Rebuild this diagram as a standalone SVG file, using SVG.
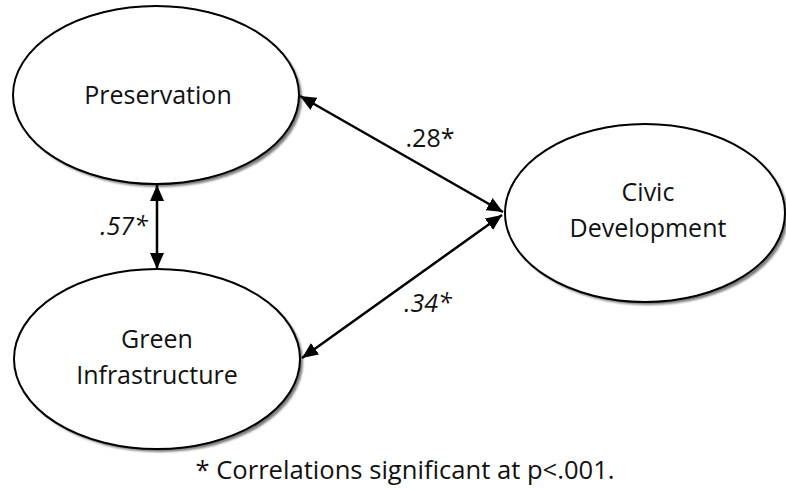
<svg xmlns="http://www.w3.org/2000/svg" width="786" height="490" viewBox="0 0 786 490">
  <style>
    .node-shape { fill: #ffffff; stroke: #000000; stroke-width: 2; }
    .node-shadow { fill: #7a7a7a; filter: url(#soft); }
    .label { font-family: "Open Sans", "Noto Sans", "Liberation Sans", sans-serif; font-size: 25px; fill: #111111; text-anchor: middle; }
    .note { font-size: 25.6px; }
    .coef { font-family: "Open Sans", "Noto Sans", "Liberation Sans", sans-serif; font-size: 25px; fill: #111111; text-anchor: middle; }
    .italic { font-style: italic; }
    .link { stroke: #000000; stroke-width: 2.5; fill: none; marker-start: url(#head); marker-end: url(#head); }
  </style>
  <defs>
    <filter id="soft" x="-10%" y="-10%" width="120%" height="120%">
      <feGaussianBlur stdDeviation="0.8"/>
    </filter>
    <marker id="head" viewBox="0 0 16 14" refX="16" refY="7" markerWidth="16" markerHeight="14" markerUnits="userSpaceOnUse" orient="auto-start-reverse">
      <path d="M0,0 L16,7 L0,14 Z" fill="#000000"/>
    </marker>
  </defs>
  <rect width="786" height="490" fill="#ffffff"/>

  <!-- Preservation -->
  <g id="preservation">
    <ellipse class="node-shadow" cx="159" cy="98" rx="143" ry="89"/>
    <ellipse class="node-shape" cx="156" cy="95" rx="143" ry="89"/>
    <text class="label" x="158" y="104">Preservation</text>
  </g>

  <!-- Green Infrastructure -->
  <g id="green-infrastructure">
    <ellipse class="node-shadow" cx="160" cy="362" rx="143" ry="90"/>
    <ellipse class="node-shape" cx="157" cy="359" rx="143" ry="90"/>
    <text class="label" x="157" y="348">Green</text>
    <text class="label" x="157" y="384">Infrastructure</text>
  </g>

  <!-- Civic Development -->
  <g id="civic-development">
    <ellipse class="node-shadow" cx="648" cy="216" rx="140" ry="89"/>
    <ellipse class="node-shape" cx="645" cy="213" rx="140" ry="89"/>
    <text class="label" x="648" y="201">Civic</text>
    <text class="label" x="648" y="237">Development</text>
  </g>

  <!-- Correlations -->
  <g id="connectors">
    <line class="link" x1="300" y1="96" x2="503" y2="212"/>
    <line class="link" x1="302" y1="358" x2="502" y2="215"/>
    <line class="link" x1="157" y1="185" x2="157" y2="269"/>
  </g>

  <g id="coefficients">
    <text class="coef" x="430" y="147">.28*</text>
    <text class="coef italic" x="124" y="235">.57*</text>
    <text class="coef italic" x="428" y="312">.34*</text>
  </g>

  <text class="label note" x="405" y="479">* Correlations significant at p&lt;.001.</text>
</svg>
